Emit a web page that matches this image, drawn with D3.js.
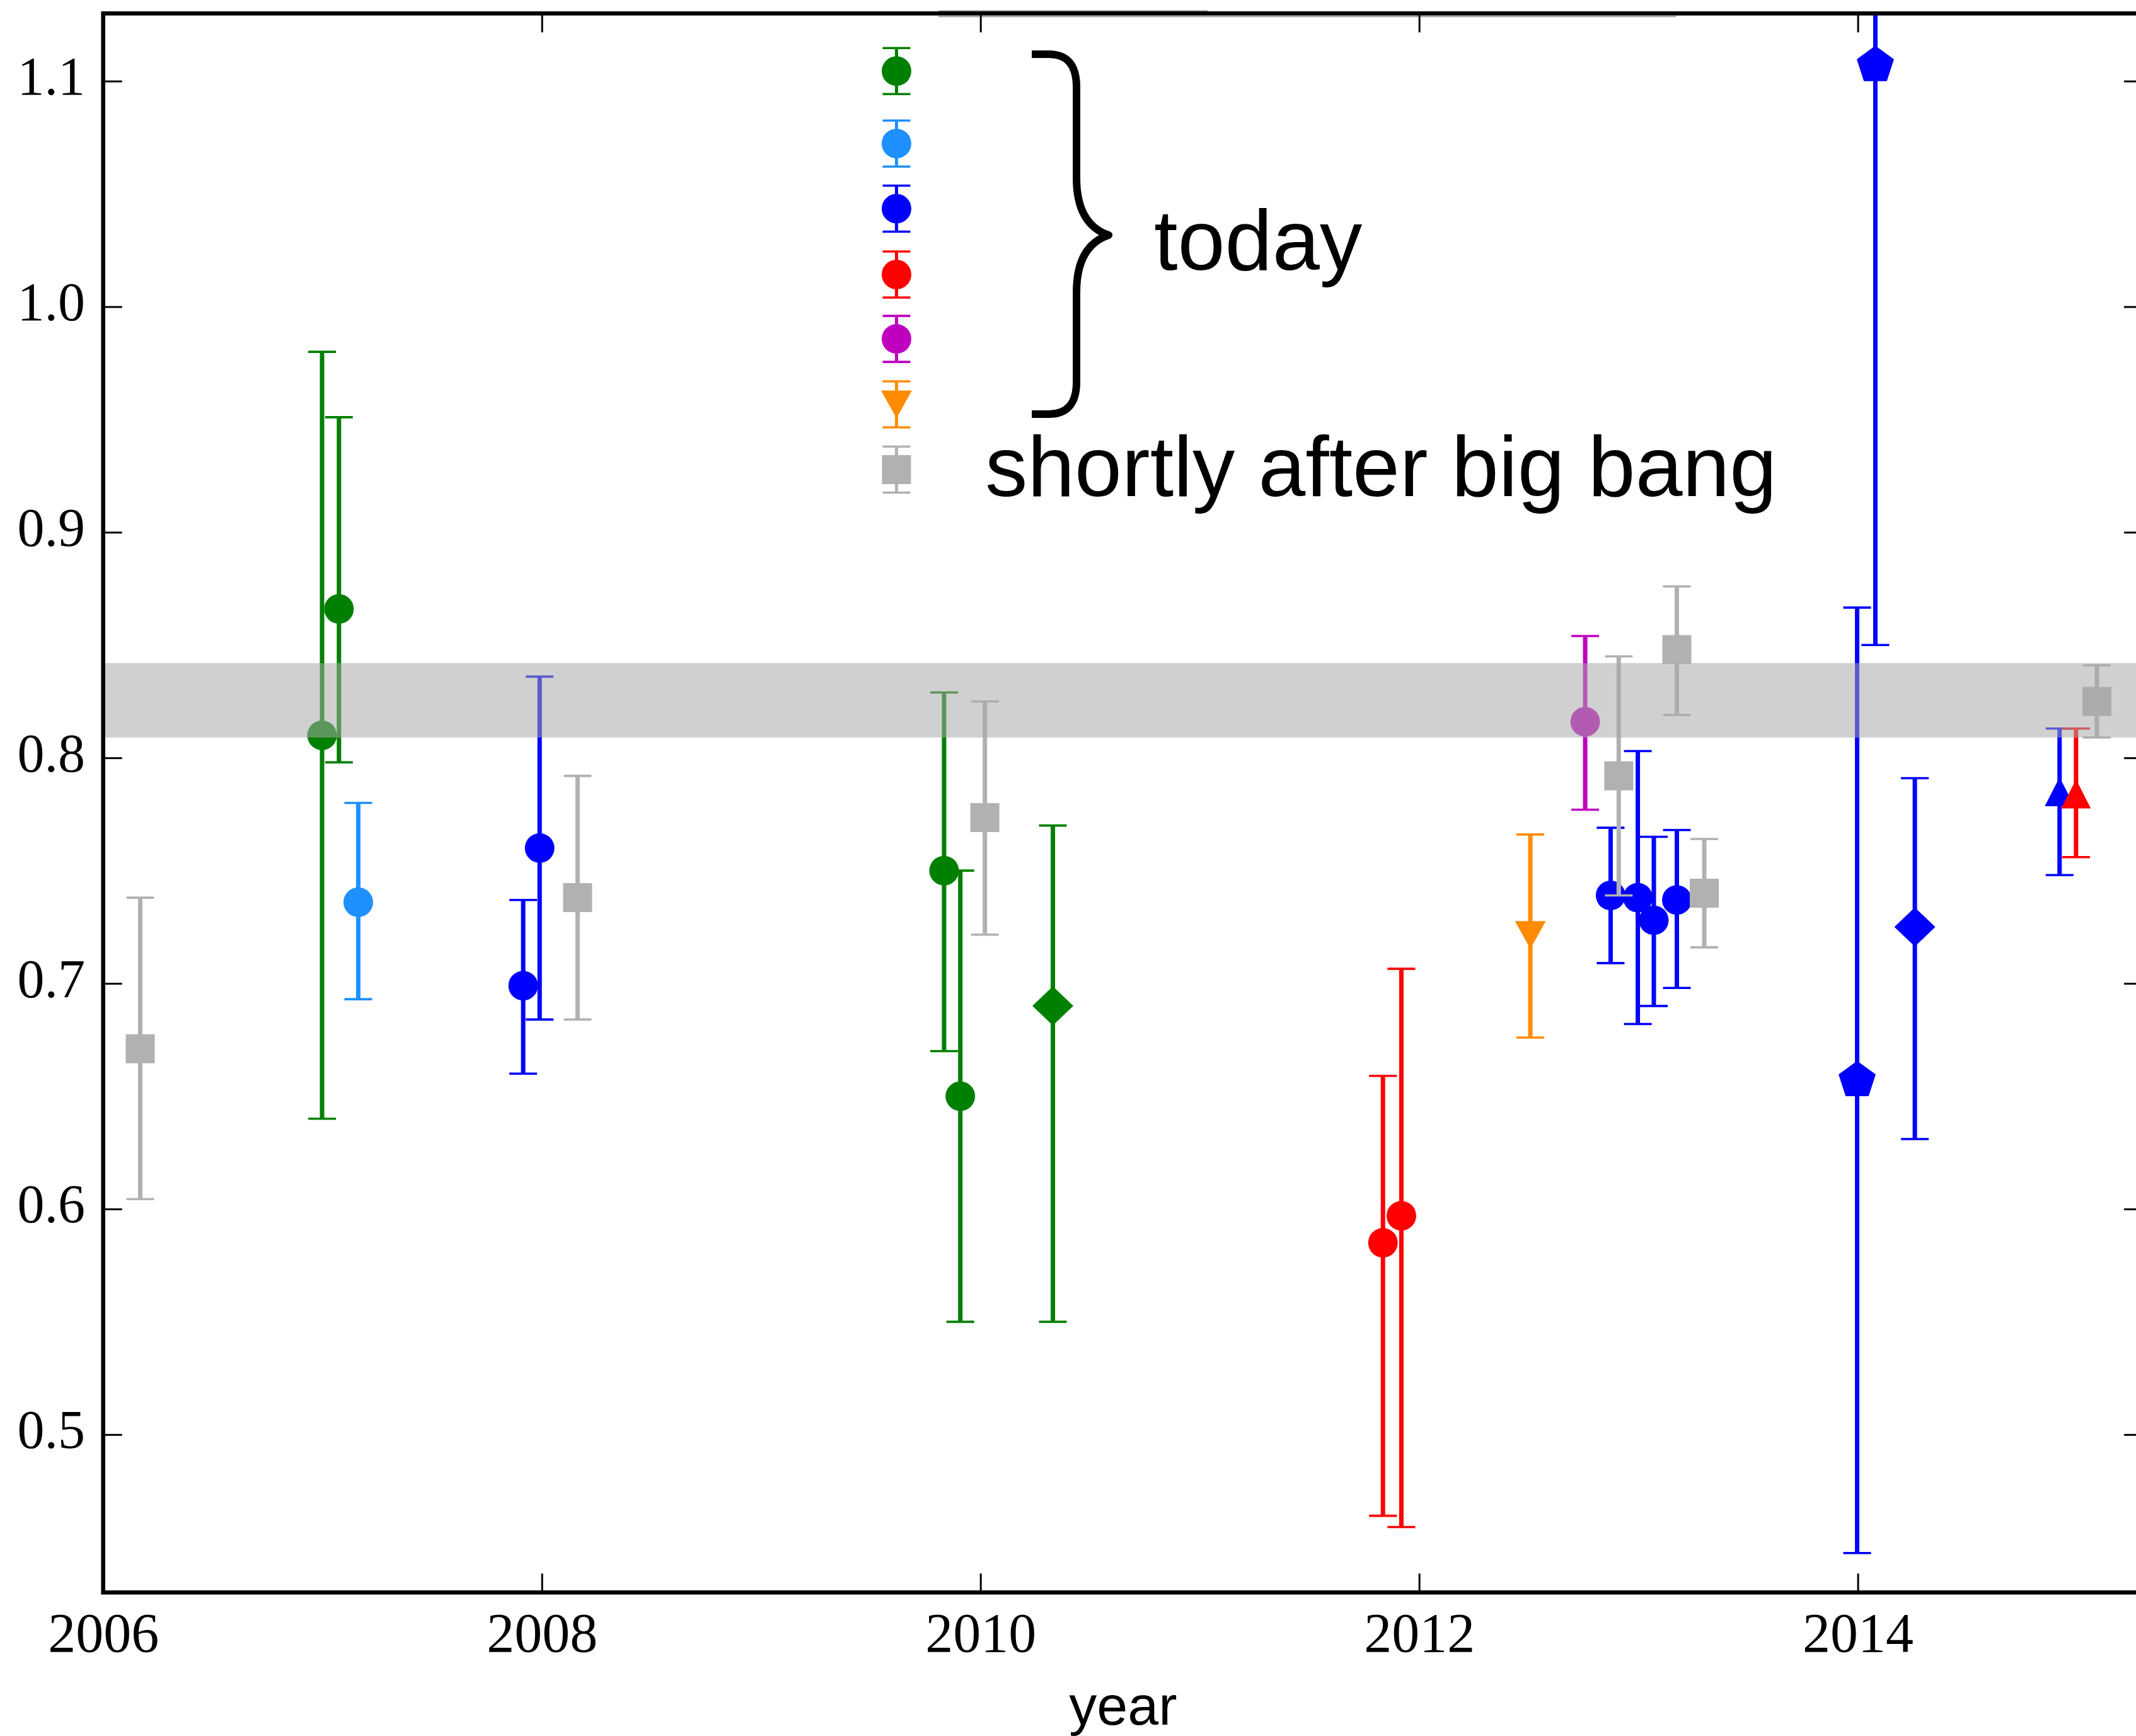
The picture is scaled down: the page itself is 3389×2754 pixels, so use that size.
<!DOCTYPE html>
<html>
<head>
<meta charset="utf-8">
<script src="https://cdn.jsdelivr.net/npm/d3@7"></script>
<style>
  body { margin: 0; background: #ffffff; }
  svg { display: block; }
</style>
</head>
<body>
<svg id="chart" width="3389" height="2754"></svg>
<script>
// ---------------- DATA ----------------
// each point: [year, value, lowerBound, upperBound, markerShape]
const greenPts = [
  [2006.998, 0.810, 0.640, 0.980, "o"],
  [2007.075, 0.866, 0.798, 0.951, "o"],
  [2009.834, 0.750, 0.670, 0.829, "o"],
  [2009.908, 0.650, 0.550, 0.750, "o"],
  [2010.330, 0.690, 0.550, 0.770, "D"]
];
const dodgerPts = [
  [2007.163, 0.736, 0.693, 0.780, "o"]
];
const bluePts = [
  [2007.915, 0.699, 0.660, 0.737, "o"],
  [2007.990, 0.760, 0.684, 0.836, "o"],
  [2012.873, 0.739, 0.709, 0.769, "o"],
  [2012.997, 0.738, 0.682, 0.803, "o"],
  [2013.070, 0.728, 0.690, 0.765, "o"],
  [2013.175, 0.737, 0.698, 0.768, "o"],
  [2013.997, 0.657, 0.4475, 0.8666, "p"],
  [2014.080, 1.107, 0.850, 1.364, "p"],
  [2014.260, 0.725, 0.631, 0.791, "D"],
  [2014.920, 0.785, 0.748, 0.813, "^"]
];
const redPts = [
  [2011.835, 0.585, 0.464, 0.659, "o"],
  [2011.919, 0.597, 0.459, 0.7065, "o"],
  [2014.995, 0.784, 0.756, 0.813, "^"]
];
const magentaPts = [
  [2012.757, 0.816, 0.777, 0.854, "o"]
];
const orangePts = [
  [2012.507, 0.7215, 0.676, 0.766, "v"]
];
const grayPts = [
  [2006.169, 0.671, 0.6044, 0.738, "s"],
  [2008.163, 0.738, 0.684, 0.792, "s"],
  [2010.020, 0.7735, 0.7216, 0.825, "s"],
  [2012.910, 0.792, 0.739, 0.845, "s"],
  [2013.175, 0.848, 0.819, 0.876, "s"],
  [2013.300, 0.740, 0.716, 0.764, "s"],
  [2015.090, 0.825, 0.809, 0.841, "s"]
];
const bandRange = [0.809, 0.842];
const xTicks = [2006, 2008, 2010, 2012, 2014];
const yTicks = [0.5, 0.6, 0.7, 0.8, 0.9, 1.0, 1.1];
const xDomain = [2006, 2015.3];
const yDomain = [0.43, 1.13];
const legendShapes = ["o", "o", "o", "o", "o", "v", "s"];
const legendColors = ["#008000", "#1e90ff", "#0000ff", "#ff0000", "#bf00bf", "#ff8c00", "#b1b1b1"];
const annotTexts = ["today", "shortly after big bang"];
const xLabel = "year";

// ---------------- LAYOUT ----------------
const W = 3389, H = 2754;
const L = 163.7, R = 3400, T = 21.3, B = 2526.3;
const svg = d3.select("#chart");
svg.append("rect").attr("width", W).attr("height", H).attr("fill", "#ffffff");

const x = d3.scaleLinear().domain(xDomain).range([L, R]);
const y = d3.scaleLinear().domain(yDomain).range([B, T]);

const defs = svg.append("defs");
defs.append("clipPath").attr("id", "plotclip")
  .append("rect").attr("x", L).attr("y", T).attr("width", R - L).attr("height", B - T);

function markerPath(shape) {
  switch (shape) {
    case "o": { const r = 23.5; return `M${-r},0A${r},${r} 0 1,0 ${r},0A${r},${r} 0 1,0 ${-r},0Z`; }
    case "s": return "M-23,-23H23V23H-23Z";
    case "D": return "M0,-31L32.5,0L0,31L-32.5,0Z";
    case "^": return "M0,-23L23.5,23L-23.5,23Z";
    case "v": return "M0,22L24.5,-22L-24.5,-22Z";
    case "p": {
      const Rr = 31;
      const pts = d3.range(5).map(k => {
        const a = (-90 + k * 72) * Math.PI / 180;
        return [Rr * Math.cos(a), Rr * Math.sin(a)];
      });
      return "M" + pts.map(p => p[0].toFixed(2) + "," + p[1].toFixed(2)).join("L") + "Z";
    }
  }
}

const plot = svg.append("g").attr("clip-path", "url(#plotclip)");
const capHalf = 22;

function drawSeries(pts, color) {
  const g = plot.append("g");
  pts.forEach(p => {
    const [yr, v, lo, hi, shape] = p;
    const cx = x(yr);
    g.append("line").attr("x1", cx).attr("x2", cx).attr("y1", y(lo)).attr("y2", y(hi))
      .attr("stroke", color).attr("stroke-width", 7);
    [lo, hi].forEach(c => {
      g.append("line").attr("x1", cx - capHalf).attr("x2", cx + capHalf)
        .attr("y1", y(c)).attr("y2", y(c))
        .attr("stroke", color).attr("stroke-width", 3.6);
    });
    g.append("path").attr("d", markerPath(shape))
      .attr("transform", `translate(${cx},${y(v)})`)
      .attr("fill", color);
  });
}

drawSeries(greenPts, "#008000");
drawSeries(dodgerPts, "#1e90ff");
drawSeries(bluePts, "#0000ff");
drawSeries(redPts, "#ff0000");
drawSeries(magentaPts, "#bf00bf");
drawSeries(orangePts, "#ff8c00");
drawSeries(grayPts, "#b1b1b1");

// shaded band drawn on top, semi-transparent
plot.append("rect")
  .attr("x", L).attr("width", R - L)
  .attr("y", y(bandRange[1])).attr("height", y(bandRange[0]) - y(bandRange[1]))
  .attr("fill", "#a8a8a8").attr("fill-opacity", 0.54);

// ---------------- LEGEND ----------------
const legendX = 1422.4;
const legendY = [112.8, 227.7, 331, 435.5, 537.6, 641.5, 745];
const lg = svg.append("g");
legendShapes.forEach((shape, i) => {
  const cy = legendY[i], col = legendColors[i];
  lg.append("line").attr("x1", legendX).attr("x2", legendX)
    .attr("y1", cy - 36.5).attr("y2", cy + 36.5)
    .attr("stroke", col).attr("stroke-width", 5);
  [cy - 36.5, cy + 36.5].forEach(c => {
    lg.append("line").attr("x1", legendX - capHalf).attr("x2", legendX + capHalf)
      .attr("y1", c).attr("y2", c).attr("stroke", col).attr("stroke-width", 3.6);
  });
  lg.append("path").attr("d", markerPath(shape))
    .attr("transform", `translate(${legendX},${cy})`).attr("fill", col);
});

// curly brace
lg.append("path")
  .attr("d", "M1637,86 L1664,86 Q1708,86 1708,138 L1708,282 C1708,332 1726,362 1759,373 C1726,384 1708,414 1708,464 L1708,606 Q1708,657 1664,657 L1637,657")
  .attr("fill", "none").attr("stroke", "#000").attr("stroke-width", 12)
  .attr("stroke-linejoin", "round");

lg.append("text").attr("x", 1831).attr("y", 428)
  .attr("font-family", "'Liberation Sans', Arial, Helvetica, sans-serif")
  .attr("font-size", 135).attr("fill", "#000").text(annotTexts[0]);
lg.append("text").attr("x", 1563).attr("y", 787)
  .attr("font-family", "'Liberation Sans', Arial, Helvetica, sans-serif")
  .attr("font-size", 134.5).attr("fill", "#000").text(annotTexts[1]);

// faint legend-frame edge along the top spine
svg.append("line").attr("x1", 1489).attr("x2", 2659).attr("y1", 26.3).attr("y2", 26.3)
  .attr("stroke", "#9a9a9a").attr("stroke-width", 2);
svg.append("line").attr("x1", 1489).attr("x2", 1916).attr("y1", 17.2).attr("y2", 17.2)
  .attr("stroke", "#9a9a9a").attr("stroke-width", 2);

// ---------------- AXES ----------------
const serif = "'Liberation Serif', 'DejaVu Serif', serif";
const tickLen = 30;

const gx = svg.append("g").attr("transform", `translate(0,${B})`)
  .call(d3.axisBottom(x).tickValues(xTicks).tickSizeInner(-tickLen).tickSizeOuter(0).tickFormat(d3.format("d")));
const gxt = svg.append("g").attr("transform", `translate(0,${T})`)
  .call(d3.axisTop(x).tickValues(xTicks).tickSizeInner(-tickLen).tickSizeOuter(0).tickFormat(""));
const gy = svg.append("g").attr("transform", `translate(${L},0)`)
  .call(d3.axisLeft(y).tickValues(yTicks).tickSizeInner(-tickLen).tickSizeOuter(0).tickFormat(d3.format(".1f")));
const gyr = svg.append("g").attr("transform", `translate(${R},0)`)
  .call(d3.axisRight(y).tickValues(yTicks).tickSizeInner(-tickLen).tickSizeOuter(0).tickFormat(""));

[gx, gxt, gy, gyr].forEach(g => {
  g.select(".domain").remove();
  g.selectAll(".tick line").attr("stroke", "#000").attr("stroke-width", 3);
});
gx.selectAll(".tick text")
  .attr("y", 2620 - B).attr("dy", null)
  .attr("font-family", serif).attr("font-size", 88).attr("fill", "#000");
gy.selectAll(".tick text")
  .attr("x", 135 - L).attr("dy", null).attr("y", 21).attr("text-anchor", "end")
  .attr("font-family", serif).attr("font-size", 86).attr("fill", "#000");

// spines
svg.append("rect").attr("x", L).attr("y", T).attr("width", R - L).attr("height", B - T)
  .attr("fill", "none").attr("stroke", "#000").attr("stroke-width", 6.6);

// x label
svg.append("text").attr("x", (L + R) / 2).attr("y", 2736)
  .attr("text-anchor", "middle")
  .attr("font-family", "'Liberation Sans', Arial, Helvetica, sans-serif")
  .attr("font-size", 88).attr("fill", "#000").text(xLabel);
</script>
</body>
</html>
